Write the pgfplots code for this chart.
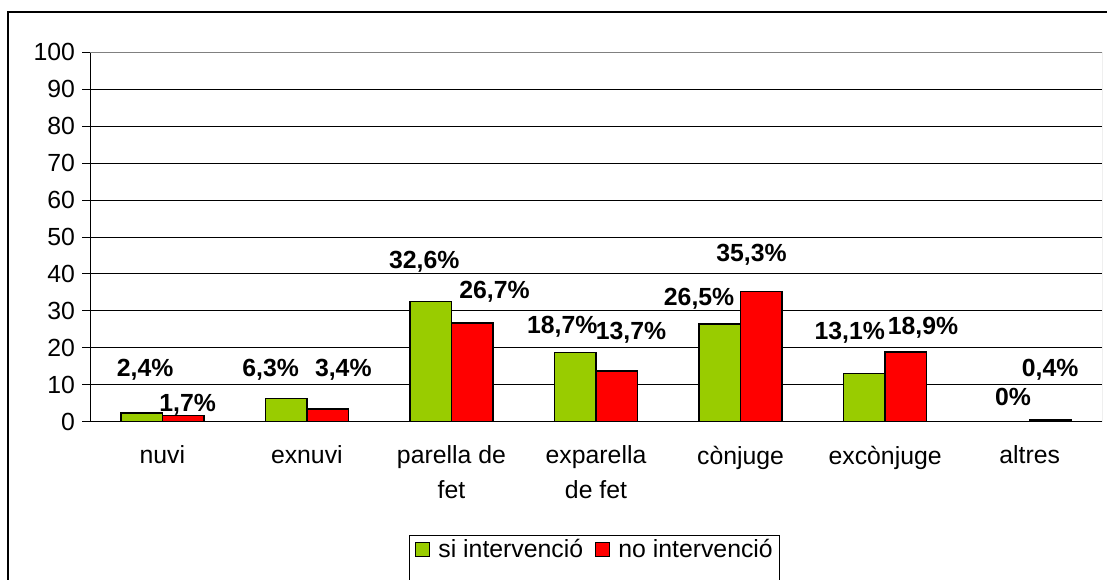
\documentclass[border=0pt]{standalone}
\usepackage{pgfplots}
\pgfplotsset{compat=1.18}
\usepackage{pgfplotstable}
\usepackage{fontspec}
\setmainfont{Liberation Sans}
\definecolor{verd}{HTML}{99CC00}
\definecolor{vermell}{HTML}{FF0000}
\newcommand\fs{\fontsize{12.4}{17.5}\selectfont}

% percentatges per categoria
\pgfplotstableread{
x si no
0 2.4 1.7
1 6.3 3.4
2 32.6 26.7
3 18.7 13.7
4 26.5 35.3
5 13.1 18.9
6 0 0.4
}\dades

% posicio de les etiquetes (com a l'original, desplacades a ma)
\pgfplotstableread{
x y lbl
-0.119 14.0 2,4
0.175 4.5 1,7
0.750 14.0 6,3
1.252 14.0 3,4
1.812 43.4 32,6
2.298 35.2 26,7
2.767 25.7 18,7
3.242 24.0 13,7
3.713 33.4 26,5
4.076 45.2 35,3
4.755 24.0 13,1
5.262 25.3 18,9
5.885 6.8 0
6.141 14.0 0,4
}\etiquetes

\begin{document}
\begin{tikzpicture}
\useasboundingbox (0,0) rectangle (553.5pt,289.5pt);
\clip (0,0) rectangle (553.5pt,289.5pt);
% marc del grafic
\draw[line width=0.6pt] (4pt,-20pt) rectangle (600pt,283.5pt);
% marc de la llegenda
\draw[line width=0.5pt] (204.5pt,-20pt) rectangle (389.5pt,22pt);
\begin{axis}[
    at={(45pt,78.65pt)}, anchor=south west,
    scale only axis,
    width=506pt, height=184.7pt,
    xmin=-0.5, xmax=6.5,
    ymin=0, ymax=100,
    ytick distance=10,
    ymajorgrids,
    major grid style={black, line width=0.5pt},
    axis line style={draw=none},
    xtick={0,...,6},
    xticklabels={nuvi, exnuvi, {parella de\\fet}, {exparella\\de fet}, cònjuge, excònjuge, altres},
    x tick label style={align=center, yshift=-4.5pt},
    major x tick style={draw=none},
    extra x ticks={-0.5,0.5,1.5,2.5,3.5,4.5,5.5,6.5},
    extra x tick labels={},
    extra x tick style={grid=none, major tick length=4pt, tick style={draw=black, line width=0.5pt}},
    tick align=outside,
    major tick length=4pt,
    tick style={black, line width=0.5pt},
    xtick pos=bottom, ytick pos=left,
    every tick label/.append style={font=\fs},
    /pgf/number format/assume math mode=true,
    legend style={at={(0.5,-0.347)}, anchor=center, draw=none, fill=none,
        font=\fs, legend columns=2,
        /tikz/every even column/.append style={column sep=4pt}},
    legend image code/.code={\draw[#1, line width=0.5pt] (0pt,-3.5pt) rectangle (7pt,3.5pt); \path (9pt,0pt);},
]
\addplot[ybar, bar width=20.75pt, bar shift=-10.375pt, fill=verd, draw=black, line width=0.75pt]
    table[x=x, y=si]{\dades};
\addlegendentry{si intervenció}
\addplot[ybar, bar width=20.75pt, bar shift=10.375pt, fill=vermell, draw=black, line width=0.75pt]
    table[x=x, y=no]{\dades};
\addlegendentry{no intervenció}
\addplot[only marks, mark=none, forget plot,
    point meta=explicit symbolic,
    nodes near coords={\pgfplotspointmeta\%},
    nodes near coords style={font=\fs\bfseries, anchor=center, inner sep=0pt}]
    table[x=x, y=y, meta=lbl]{\etiquetes};
% eixos: esquerre i inferior negres, marc superior i dret gris
\draw[black, line width=0.5pt] (rel axis cs:0,0) -- (rel axis cs:0,1);
\draw[black, line width=0.5pt] (rel axis cs:0,0) -- (rel axis cs:1,0);
\draw[gray, line width=0.5pt] (rel axis cs:0,1) -- (rel axis cs:1,1) -- (rel axis cs:1,0);
\end{axis}
\end{tikzpicture}
\end{document}
